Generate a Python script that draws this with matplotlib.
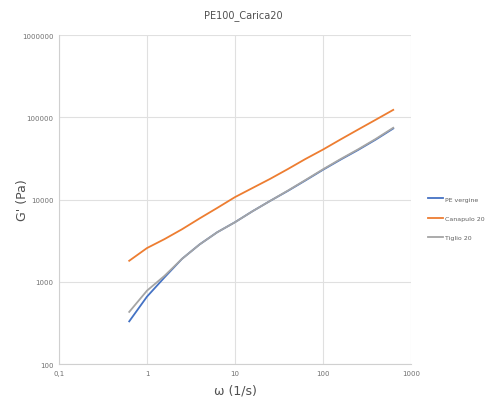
import matplotlib
matplotlib.use("Agg")
import matplotlib.pyplot as plt
from matplotlib.ticker import FixedLocator, FixedFormatter, NullLocator

omega = [0.628, 1.0, 1.58, 2.5, 3.97, 6.28, 10, 15.8, 25, 39.7, 62.8, 100, 158, 250, 397, 628]
pe_vergine = [330, 660, 1130, 1900, 2850, 4000, 5300, 7200, 9600, 12700, 17000, 23000, 30500, 40000, 53500, 73000]
canapulo_20 = [1800, 2570, 3300, 4350, 5900, 7900, 10700, 13800, 17800, 23400, 31000, 40500, 53700, 70800, 93300, 123000]
tiglio_20 = [430, 780, 1180, 1900, 2850, 4000, 5300, 7200, 9600, 12800, 17200, 23300, 31000, 40700, 54500, 74500]

series_names = ["PE vergine", "Canapulo 20", "Tiglio 20"]
x_ticks = [0.1, 1, 10, 100, 1000]
x_tick_labels = ["0,1", "1", "10", "100", "1000"]
y_ticks = [100, 1000, 10000, 100000, 1000000]
y_tick_labels = ["100", "1000", "10000", "100000", "1000000"]

fig = plt.figure(figsize=(4.86, 4.02), dpi=100)
ax = fig.add_axes([0.1214, 0.092, 0.7243, 0.8184])

colors = ["#4472C4", "#ED7D31", "#A5A5A5"]
l1, = ax.plot(omega, pe_vergine, color=colors[0], lw=1.3, label=series_names[0])
l2, = ax.plot(omega, canapulo_20, color=colors[1], lw=1.3, label=series_names[1])
l3, = ax.plot(omega, tiglio_20, color=colors[2], lw=1.3, label=series_names[2])

ax.set_xscale("log")
ax.set_yscale("log")
ax.set_xlim(0.1, 1000)
ax.set_ylim(100, 1000000)
ax.xaxis.set_major_locator(FixedLocator(x_ticks))
ax.xaxis.set_major_formatter(FixedFormatter(x_tick_labels))
ax.xaxis.set_minor_locator(NullLocator())
ax.yaxis.set_major_locator(FixedLocator(y_ticks))
ax.yaxis.set_major_formatter(FixedFormatter(y_tick_labels))
ax.yaxis.set_minor_locator(NullLocator())

ax.grid(True, color="#E0E0E0", lw=0.8)
ax.set_axisbelow(True)
for s in ["top", "right"]:
    ax.spines[s].set_visible(False)
for s in ["left", "bottom"]:
    ax.spines[s].set_color("#D0D0D0")
    ax.spines[s].set_linewidth(0.8)
ax.tick_params(axis="both", length=0, labelsize=5, colors="#707070", pad=4)

ax.set_xlabel("ω (1/s)", fontsize=9, color="#505050", labelpad=6)
fig.text(22 / 486, 1 - 200 / 402, "G' (Pa)", rotation=90, ha="center", va="center",
         fontsize=9, color="#505050")
fig.text(0.5, 0.962, "PE100_Carica20", ha="center", va="center", fontsize=7, color="#505050")

leg = fig.legend(handles=[l1, l2, l3], loc="center left", bbox_to_anchor=(0.875, 0.455),
                 frameon=False, fontsize=4.5, handlelength=2.5, labelspacing=2.2,
                 handletextpad=0.3, borderaxespad=0)
for t in leg.get_texts():
    t.set_color("#606060")

fig.savefig("out.png", dpi=100)
